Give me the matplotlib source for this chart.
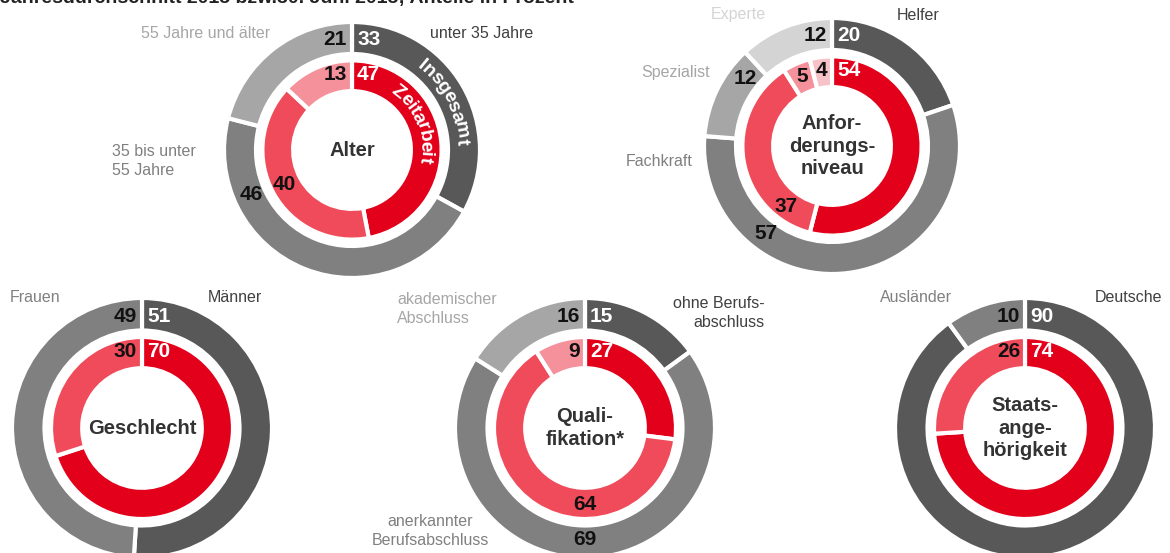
import numpy as np
import matplotlib.pyplot as plt
from matplotlib.textpath import TextToPath
from matplotlib.font_manager import FontProperties

plt.rcParams['font.family'] = ['Liberation Sans', 'DejaVu Sans']

# Anteile in Prozent, im Uhrzeigersinn ab 12 Uhr
alter_kat = ['unter 35 Jahre', '35 bis unter\n55 Jahre', '55 Jahre und älter']
alter_gesamt = [33, 46, 21]
alter_zeitarbeit = [47, 40, 13]

niveau_kat = ['Helfer', 'Fachkraft', 'Spezialist', 'Experte']
niveau_gesamt = [20, 57, 12, 12]
niveau_zeitarbeit = [54, 37, 5, 4]

geschlecht_kat = ['Männer', 'Frauen']
geschlecht_gesamt = [51, 49]
geschlecht_zeitarbeit = [70, 30]

quali_kat = ['ohne Berufs-\nabschluss', 'anerkannter\nBerufsabschluss', 'akademischer\nAbschluss']
quali_gesamt = [15, 69, 16]
quali_zeitarbeit = [27, 64, 9]

staat_kat = ['Deutsche', 'Ausländer']
staat_gesamt = [90, 10]
staat_zeitarbeit = [74, 26]

titel = 'Jahresdurchschnitt 2015 bzw.30. Juni 2015; Anteile in Prozent'

grau = ['#585858', '#808080', '#a6a6a6', '#d4d4d4']
rot = ['#e2001a', '#f04b5a', '#f4919b', '#f7c2c7']

W, H = 1170, 553

# Anordnung in Bildpixeln (y nach unten)
diagramme = [
    dict(name='Alter', kat=alter_kat, aussen=alter_gesamt, innen=alter_zeitarbeit,
         mitte=(352, 150), R=128,
         kat_pos=[(430, 33, 'left'), (112, 161, 'left'), (270, 33, 'right')],
         winkel_aussen={1: 246}, winkel_innen={1: 243}),
    dict(name='Anfor-\nderungs-\nniveau', kat=niveau_kat, aussen=niveau_gesamt, innen=niveau_zeitarbeit,
         mitte=(832, 146), R=128,
         kat_pos=[(897, 15, 'left'), (693, 162, 'right'), (710, 72, 'right'), (738, 15, 'center')],
         winkel_aussen={1: 217, 2: 308}, winkel_innen={1: 217}),
    dict(name='Geschlecht', kat=geschlecht_kat, aussen=geschlecht_gesamt, innen=geschlecht_zeitarbeit,
         mitte=(142, 428), R=130,
         kat_pos=[(208, 297, 'left'), (10, 297, 'left')],
         winkel_aussen={}, winkel_innen={}),
    dict(name='Quali-\nfikation*', kat=quali_kat, aussen=quali_gesamt, innen=quali_zeitarbeit,
         mitte=(585, 428), R=130,
         kat_pos=[(765, 313, 'right'), (430, 531, 'center'), (397, 309, 'left')],
         winkel_aussen={1: 180}, winkel_innen={1: 180}),
    dict(name='Staats-\nange-\nhörigkeit', kat=staat_kat, aussen=staat_gesamt, innen=staat_zeitarbeit,
         mitte=(1025, 428), R=130,
         kat_pos=[(1095, 297, 'left'), (880, 297, 'left')],
         winkel_aussen={}, winkel_innen={}),
]

fig = plt.figure(figsize=(W / 100, H / 100), dpi=100)
ax = fig.add_axes([0, 0, 1, 1])


def polar(cx, cy, r, grad):
    a = np.radians(grad)
    return cx + r * np.sin(a), cy + r * np.cos(a)


def werte_beschriften(ax, keile, werte, cx, cy, r, winkel, farben_text):
    n = len(werte)
    for i, (keil, wert) in enumerate(zip(keile, werte)):
        kw = dict(fontsize=15, fontweight='bold', color=farben_text[i], va='center')
        if i == 0:
            ax.text(cx + 5, cy + r, str(wert), ha='left', **kw)
        elif i == n - 1:
            ax.text(cx - 5, cy + r, str(wert), ha='right', **kw)
        else:
            # Keilwinkel von matplotlib (gegen Uhrzeigersinn ab 3 Uhr) in Uhrzeigersinn ab 12 Uhr
            mitte = 90 - (keil.theta1 + keil.theta2) / 2
            g = winkel.get(i, mitte)
            x, y = polar(cx, cy, r, g)
            ax.text(x, y, str(wert), ha='center', **kw)


def bogentext(ax, text, cx, cy, r, start, size):
    prop = FontProperties(family='Liberation Sans', weight='bold', size=size)
    ttp = TextToPath()
    g = start
    for ch in text:
        w, h, d = ttp.get_text_width_height_descent(ch, prop, ismath=False)
        dg = np.degrees(w * 100 / 72 / r)
        m = g + dg / 2
        x, y = polar(cx, cy, r, m)
        ax.text(x, y, ch, rotation=-m, rotation_mode='anchor', ha='center',
                va='center_baseline', color='white', fontproperties=prop)
        g += dg


for d in diagramme:
    cx, cy = d['mitte'][0], H - d['mitte'][1]
    R = d['R']
    n = len(d['aussen'])
    keile_a, _ = ax.pie(d['aussen'], radius=R, center=(cx, cy), startangle=90,
                        counterclock=False, colors=grau[:n],
                        wedgeprops=dict(width=0.25 * R, edgecolor='white', linewidth=3))
    keile_i, _ = ax.pie(d['innen'], radius=0.70 * R, center=(cx, cy), startangle=90,
                        counterclock=False, colors=rot[:n],
                        wedgeprops=dict(width=0.24 * R, edgecolor='white', linewidth=3))
    text_farben = ['white'] + ['#111111'] * (n - 1)
    werte_beschriften(ax, keile_a, d['aussen'], cx, cy, 0.86 * R, d['winkel_aussen'], text_farben)
    werte_beschriften(ax, keile_i, d['innen'], cx, cy, 0.59 * R, d['winkel_innen'], text_farben)

    ax.text(cx, cy, d['name'], ha='center', va='center', fontsize=14.5,
            fontweight='bold', color='#333333', linespacing=1.25)

    for i, (kat, (x, y, ha)) in enumerate(zip(d['kat'], d['kat_pos'])):
        ax.text(x, H - y, kat, ha=ha, va='center', fontsize=11.5,
                color=grau[i] if i > 0 else '#404040', linespacing=1.35,
                multialignment=ha if ha != 'center' else 'center')

# Ringbeschriftung im ersten Diagramm
cx0, cy0 = diagramme[0]['mitte'][0], H - diagramme[0]['mitte'][1]
bogentext(ax, 'Insgesamt', cx0, cy0, 0.875 * 128, 38, 14)
bogentext(ax, 'Zeitarbeit', cx0, cy0, 0.59 * 128, 34, 14)

# Titelzeile, oben angeschnitten
ax.text(0, H + 1, titel, ha='left', va='center', fontsize=14, fontweight='bold', color='#222222')

ax.set_xlim(0, W)
ax.set_ylim(0, H)
ax.set_aspect('equal')
ax.axis('off')

fig.savefig('out.png', dpi=100)
